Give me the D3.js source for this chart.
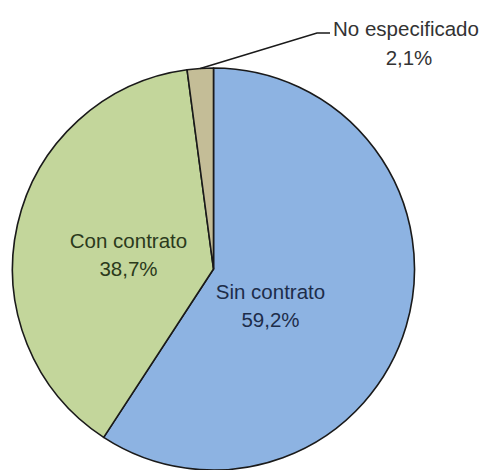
<!DOCTYPE html>
<html>
<meta charset="utf-8">
<script src="https://d3js.org/d3.v7.min.js"></script>
<body style="margin:0;background:#fff">
<script>

// tipo de contrato
var categorias = ["Sin contrato", "Con contrato", "No especificado"];
var valores = [59.2, 38.7, 2.1];
var colores = ["#8db3e2", "#c3d69b", "#c4bd97"];
var colorTexto = ["#1d2d4a", "#2b3a1c", "#333333"];

var width = 489, height = 470;
var centro = {x: 213.5, y: 269};
var radio = 201;

var svg = d3.select("body").append("svg")
  .attr("width", width)
  .attr("height", height)
  .style("font-family", "'Liberation Sans', Arial, sans-serif");

var pie = d3.pie().sort(null).value(function(d){ return d; });
var arcos = pie(valores);
var arc = d3.arc().innerRadius(0).outerRadius(radio);

var g = svg.append("g")
  .attr("transform", `translate(${centro.x},${centro.y})`);

g.selectAll("path")
  .data(arcos)
  .enter().append("path")
  .attr("d", arc)
  .attr("fill", function(d, i){ return colores[i]; })
  .attr("stroke", "#1a1a1a")
  .attr("stroke-width", 1.6)
  .attr("stroke-linejoin", "round");

function fmt(v){ return v.toFixed(1).replace(".", ",") + "%"; }

// etiquetas dentro de las porciones grandes
var posEtiq = [[57, 30], [-85, -21]];
[0, 1].forEach(function(i){
  var t = g.append("text")
    .attr("text-anchor", "middle")
    .attr("fill", colorTexto[i])
    .style("font-size", "20.5px");
  t.append("tspan").attr("x", posEtiq[i][0]).attr("y", posEtiq[i][1]).text(categorias[i]);
  t.append("tspan").attr("x", posEtiq[i][0]).attr("y", posEtiq[i][1] + 28).text(fmt(valores[i]));
});

// linea guia para la porcion pequeña
var a = arcos[2];
var medio = (a.startAngle + a.endAngle) / 2;
var p0 = [radio * Math.sin(medio), -radio * Math.cos(medio)];
var codo = [317 - centro.x, 33 - centro.y];
var fin = [330 - centro.x, 33 - centro.y];
g.append("polyline")
  .attr("points", [p0, codo, fin].map(function(p){ return p.join(","); }).join(" "))
  .attr("fill", "none")
  .attr("stroke", "#1a1a1a")
  .attr("stroke-width", 1.6);

var t2 = svg.append("text")
  .attr("text-anchor", "middle")
  .attr("fill", colorTexto[2])
  .style("font-size", "20.5px");
t2.append("tspan").attr("x", 406).attr("y", 36).text(categorias[2]);
t2.append("tspan").attr("x", 409).attr("y", 65).text(fmt(valores[2]));

</script>
</body>
</html>
